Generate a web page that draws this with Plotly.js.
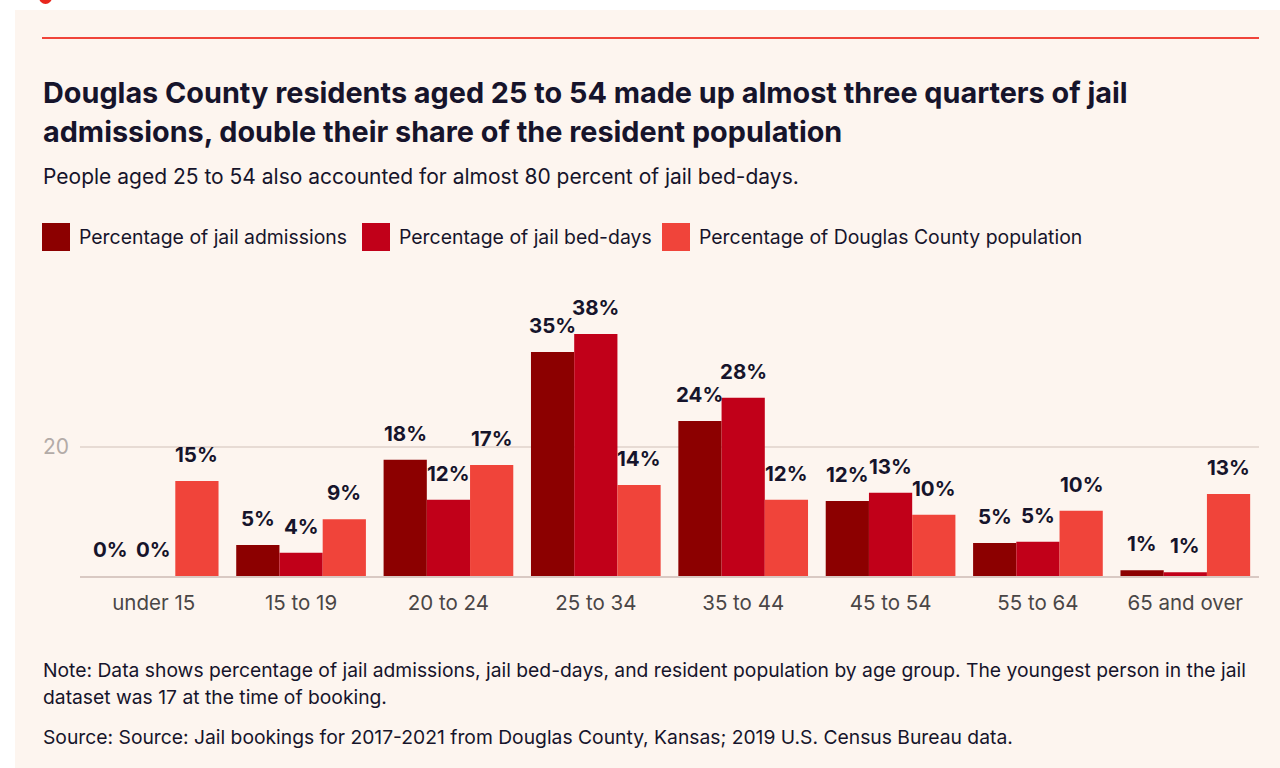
<!DOCTYPE html>
<html>
<head>
<meta charset="utf-8">
<script src="https://cdn.plot.ly/plotly-3.0.1.min.js"></script>
<style>
  html, body { margin: 0; padding: 0; background: #ffffff; width: 1280px; height: 768px; overflow: hidden; }
  #panel { position: absolute; left: 15px; top: 10px; width: 1265px; height: 758px; background: #fdf5ef; }
  #dot { position: absolute; left: 39px; top: -9px; width: 13px; height: 13px; border-radius: 50%; background: #e8261c; }
  #chart { position: absolute; left: 0; top: 0; width: 1280px; height: 768px; }
</style>
</head>
<body>
<div id="panel"></div>
<div id="dot"></div>
<div id="chart"></div>
<script>
const categories = ["under 15", "15 to 19", "20 to 24", "25 to 34", "35 to 44", "45 to 54", "55 to 64", "65 and over"];
const seriesNames = ["Percentage of jail admissions", "Percentage of jail bed-days", "Percentage of Douglas County population"];
const jailAdmissions = [0, 4.8, 18.0, 34.7, 24.0, 11.6, 5.1, 0.9];
const jailBedDays = [0, 3.6, 11.8, 37.5, 27.6, 12.9, 5.3, 0.6];
const countyPopulation = [14.7, 8.8, 17.2, 14.1, 11.8, 9.5, 10.1, 12.7];
const yTickVals = [20];
const yTickText = ["20"];

const titleLine1 = "Douglas County residents aged 25 to 54 made up almost three quarters of jail";
const titleLine2 = "admissions, double their share of the resident population";
const subtitle = "People aged 25 to 54 also accounted for almost 80 percent of jail bed-days.";
const noteLine1 = "Note: Data shows percentage of jail admissions, jail bed-days, and resident population by age group. The youngest person in the jail";
const noteLine2 = "dataset was 17 at the time of booking.";
const sourceLine = "Source: Source: Jail bookings for 2017-2021 from Douglas County, Kansas; 2019 U.S. Census Bureau data.";

const colors = ["#8c0000", "#c10019", "#f0443a"];
const FONT = "Inter, 'Noto Sans', sans-serif";
const DARK = "#16142b";

// geometry
const W = 1280, H = 768;
const mL = 80, mR = 21, mT = 321, mB = 192;
const plotW = W - mL - mR, plotH = H - mT - mB;
const px = x => (x - mL) / plotW;
const py = y => (H - mB - y) / plotH;
const bargap = 0.12;
const barPx = (plotW / categories.length) * (1 - bargap) / 3;

const allSeries = [jailAdmissions, jailBedDays, countyPopulation];
const traces = allSeries.map((vals, i) => ({
  type: "bar",
  name: seriesNames[i],
  x: categories,
  y: vals,
  marker: { color: colors[i], line: { width: 0 } },
  hoverinfo: "skip",
  showlegend: false
}));

const annotations = [];
allSeries.forEach((vals, i) => {
  vals.forEach((v, j) => {
    annotations.push({
      x: categories[j], y: v, xref: "x", yref: "y",
      text: Math.round(v) + "%",
      showarrow: false, xanchor: "center", yanchor: "bottom",
      xshift: (i - 1) * barPx, yshift: 12,
      font: { family: FONT, size: 20.5, color: DARK, weight: 700 }
    });
  });
});

function textAnn(text, x, y, size, color, weight) {
  return { text, x: px(x), y: py(y), xref: "paper", yref: "paper", xanchor: "left", yanchor: "middle",
    showarrow: false, align: "left", font: { family: FONT, size, color, weight: weight || 400 } };
}
annotations.push(textAnn(titleLine1, 41, 92, 28.8, DARK, 700));
annotations.push(textAnn(titleLine2, 41, 131, 28.8, DARK, 700));
annotations.push(textAnn(subtitle, 41, 176, 21, DARK));
annotations.push(textAnn(noteLine1, 41, 670, 19.3, DARK));
annotations.push(textAnn(noteLine2, 41, 697, 19.3, DARK));
annotations.push(textAnn(sourceLine, 41, 737, 19.3, DARK));

// legend
const legendX = [42, 362, 662];
const shapes = [];
seriesNames.forEach((n, i) => {
  shapes.push({ type: "rect", xref: "paper", yref: "paper",
    x0: px(legendX[i]), x1: px(legendX[i] + 28), y0: py(251), y1: py(223),
    fillcolor: colors[i], line: { width: 0 } });
  annotations.push(textAnn(n, legendX[i] + 35, 237, 19.4, DARK));
});
// top red rule
shapes.push({ type: "line", xref: "paper", yref: "paper",
  x0: px(42), x1: px(1259), y0: py(38), y1: py(38), line: { color: "#f0443a", width: 2 } });

const layout = {
  width: W, height: H,
  margin: { l: mL, r: mR, t: mT, b: mB, pad: 0 },
  paper_bgcolor: "rgba(0,0,0,0)",
  plot_bgcolor: "rgba(0,0,0,0)",
  barmode: "group",
  bargap: bargap,
  bargroupgap: 0,
  showlegend: false,
  font: { family: FONT, color: DARK },
  xaxis: {
    type: "category",
    showgrid: false, zeroline: false,
    showline: true, linecolor: "#d9c9c3", linewidth: 2,
    ticks: "", tickfont: { family: FONT, size: 20.5, color: "#4a4646" },
    ticklabelstandoff: 7,
    fixedrange: true
  },
  yaxis: {
    range: [0, 39.5],
    tickvals: yTickVals, ticktext: yTickText,
    showgrid: true, gridcolor: "#e7dbd4", gridwidth: 1.5,
    zeroline: false, showline: false, ticks: "",
    tickfont: { family: FONT, size: 21, color: "#b3aba7" },
    ticklabelstandoff: 10,
    fixedrange: true
  },
  annotations: annotations,
  shapes: shapes
};

Plotly.newPlot("chart", traces, layout, { staticPlot: true, displayModeBar: false });
</script>
</body>
</html>
